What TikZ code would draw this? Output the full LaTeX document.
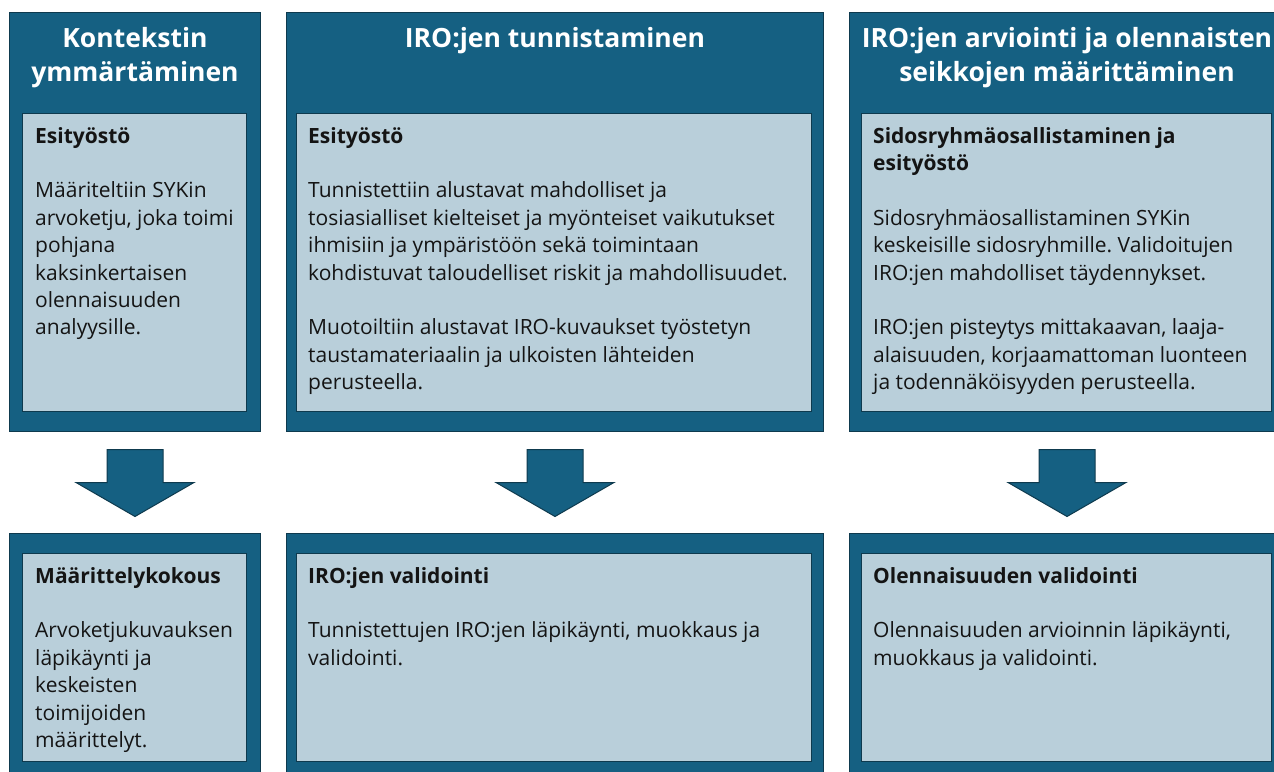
\documentclass[tikz,border=0pt]{standalone}
\usepackage{fontspec}
\setmainfont{Open Sans}
\usepackage{tikz}
\usetikzlibrary{positioning, calc}
\frenchspacing

\definecolor{panelblue}{HTML}{156082}
\definecolor{cardgray}{HTML}{B9CFDA}
\definecolor{edgeblue}{HTML}{0E3A4E}
\definecolor{inktext}{HTML}{141414}

\newcommand\emptyrow{\\[27.4pt]}

\tikzset{
  panel/.style={draw=edgeblue, line width=1pt, fill=panelblue, anchor=north west, inner sep=0pt},
  card/.style={draw=edgeblue, line width=1pt, fill=cardgray, anchor=north west, inner sep=0pt},
  head/.style={text=white, align=center, inner sep=0pt, font=\fontsize{26.5}{34}\selectfont\bfseries},
  cardtext/.style={anchor=north west, align=left, inner sep=0pt, text=inktext,
    font=\fontsize{21}{27.4}\selectfont},
  blockarrow/.pic={
    \draw[edgeblue, line width=1pt, fill=panelblue, line join=miter]
      (-28,-33) -- (28,-33) -- (28,0) -- (59,0) -- (0,34) -- (-59,0) -- (-28,0) -- cycle;
  }
}

\begin{document}
\begin{tikzpicture}[x=1pt, y=-1pt]
  \useasboundingbox (0,0) rectangle (1274,771);
  \clip (0,0) rectangle (1274,771);

  \node[panel, minimum width=251pt, minimum height=419pt] (top1) at (9,12) {};
  \node[panel, minimum width=537pt, minimum height=419pt] (top2) at (286,12) {};
  \node[panel, minimum width=435pt, minimum height=419pt] (top3) at (849,12) {};

  \node[panel, minimum width=251pt, minimum height=260pt] (bot1) at (9,533) {};
  \node[panel, minimum width=537pt, minimum height=260pt] (bot2) at (286,533) {};
  \node[panel, minimum width=435pt, minimum height=260pt] (bot3) at (849,533) {};

  \node[head] (head1) at ($(top1.north)+(0,46)$) {Kontekstin\\ymmärtäminen};
  \node[head] (head2) at ($(top2.north)+(0,29)$) {IRO:jen tunnistaminen};
  \node[head] (head3) at ($(top3.north)+(0,46)$) {IRO:jen arviointi ja olennaisten\\seikkojen määrittäminen};

  \node[card, minimum width=224pt, minimum height=298pt] (card1) at (22,113) {};
  \node[card, minimum width=515pt, minimum height=298pt] (card2) at (296,113) {};
  \node[card, minimum width=410pt, minimum height=298pt] (card3) at (861,113) {};

  \node[card, minimum width=224pt, minimum height=208pt] (card4) at (22,553) {};
  \node[card, minimum width=515pt, minimum height=208pt] (card5) at (296,553) {};
  \node[card, minimum width=410pt, minimum height=208pt] (card6) at (861,553) {};

  \node[cardtext] (text1) at ($(card1.north west)+(13,14)$) {\textbf{Esityöstö}\emptyrow
    Määriteltiin SYKin\\arvoketju, joka toimi\\pohjana\\kaksinkertaisen\\olennaisuuden\\analyysille.};
  \node[cardtext] (text2) at ($(card2.north west)+(12,14)$) {\textbf{Esityöstö}\emptyrow
    Tunnistettiin alustavat mahdolliset ja\\tosiasialliset kielteiset ja myönteiset vaikutukset\\
    ihmisiin ja ympäristöön sekä toimintaan\\kohdistuvat taloudelliset riskit ja mahdollisuudet.\emptyrow
    Muotoiltiin alustavat IRO-kuvaukset työstetyn\\taustamateriaalin ja ulkoisten lähteiden\\perusteella.};
  \node[cardtext] (text3) at ($(card3.north west)+(12,14)$) {\textbf{Sidosryhmäosallistaminen ja}\\\textbf{esityöstö}\emptyrow
    Sidosryhmäosallistaminen SYKin\\keskeisille sidosryhmille. Validoitujen\\IRO:jen mahdolliset täydennykset.\emptyrow
    IRO:jen pisteytys mittakaavan, laaja-\\alaisuuden, korjaamattoman luonteen\\ja todennäköisyyden perusteella.};

  \node[cardtext] (text4) at ($(card4.north west)+(13,14)$) {\textbf{Määrittelykokous}\emptyrow
    Arvoketjukuvauksen\\läpikäynti ja\\keskeisten\\toimijoiden\\määrittelyt.};
  \node[cardtext] (text5) at ($(card5.north west)+(12,14)$) {\textbf{IRO:jen validointi}\emptyrow
    Tunnistettujen IRO:jen läpikäynti, muokkaus ja\\validointi.};
  \node[cardtext] (text6) at ($(card6.north west)+(12,14)$) {\textbf{Olennaisuuden validointi}\emptyrow
    Olennaisuuden arvioinnin läpikäynti,\\muokkaus ja validointi.};

  \pic at ($(top1.south)!0.5!(bot1.north)$) {blockarrow};
  \pic at ($(top2.south)!0.5!(bot2.north)$) {blockarrow};
  \pic at ($(top3.south)!0.5!(bot3.north)$) {blockarrow};
\end{tikzpicture}
\end{document}
